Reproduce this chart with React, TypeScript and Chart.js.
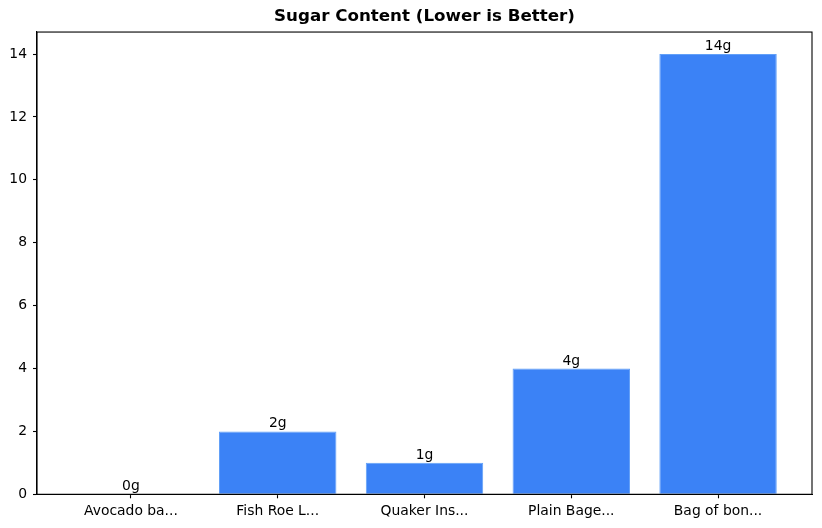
import React, { useEffect, useRef } from "react";
import { Chart, registerables } from "chart.js";

Chart.register(...registerables);

const categories = ["Avocado ba...", "Fish Roe L...", "Quaker Ins...", "Plain Bage...", "Bag of bon..."];
const sugarValues = [0, 2, 1, 4, 14];
const yTicks = [0, 2, 4, 6, 8, 10, 12, 14];
const titleText = "Sugar Content (Lower is Better)";

const FONT = "'DejaVu Sans', sans-serif";

const framePlugin = {
  id: "frame",
  afterDraw(chart: any) {
    const { ctx, chartArea } = chart;
    ctx.save();
    ctx.strokeStyle = "#000";
    ctx.lineWidth = 1.1;
    ctx.strokeRect(chartArea.left, chartArea.top, chartArea.right - chartArea.left, chartArea.bottom - chartArea.top);
    ctx.restore();
  },
};

const valueLabelPlugin = {
  id: "valueLabels",
  afterDatasetsDraw(chart: any) {
    const { ctx } = chart;
    const meta = chart.getDatasetMeta(0);
    ctx.save();
    ctx.font = `13.9px ${FONT}`;
    ctx.fillStyle = "#000";
    ctx.textAlign = "center";
    ctx.textBaseline = "alphabetic";
    meta.data.forEach((bar: any, i: number) => {
      ctx.fillText(`${sugarValues[i]}g`, bar.x, bar.y - 4);
    });
    ctx.restore();
  },
};

export default function App() {
  const ref = useRef<HTMLCanvasElement>(null);
  useEffect(() => {
    if (!ref.current) return;
    const chart = new Chart(ref.current, {
      type: "bar",
      data: {
        datasets: [
          {
            data: sugarValues.map((v, i) => ({ x: i, y: v })),
            backgroundColor: "#3b82f6",
            borderColor: "#62a0f8",
            borderWidth: 1,
            categoryPercentage: 1,
            barPercentage: 0.8,
          },
        ],
      },
      options: {
        animation: false,
        responsive: false,
        maintainAspectRatio: false,
        layout: { padding: { left: 0, right: 10, top: 0, bottom: 0 } },
        plugins: {
          legend: { display: false },
          tooltip: { enabled: false },
          title: {
            display: true,
            text: titleText,
            fullSize: false,
            color: "#000",
            font: { family: FONT, size: 16.7, weight: "bold" },
            padding: { top: 7, bottom: 5 },
          },
        },
        scales: {
          x: {
            type: "linear",
            offset: false,
            min: -0.64,
            max: 4.64,
            afterBuildTicks: (scale: any) => {
              scale.ticks = categories.map((_, i) => ({ value: i }));
            },
            afterFit: (scale: any) => {
              scale.height = 33.7;
            },
            ticks: {
              color: "#000",
              font: { family: FONT, size: 13.9 },
              padding: 5,
              maxRotation: 0,
              autoSkip: false,
              callback: (v: any) => categories[v as number] ?? "",
            },
            grid: { offset: false, drawOnChartArea: false, drawTicks: true, tickLength: 4, color: "#000", tickWidth: 1.1 },
            border: { display: true, color: "#000", width: 1.1 },
          },
          y: {
            type: "linear",
            min: 0,
            max: 14.7,
            afterBuildTicks: (scale: any) => {
              scale.ticks = yTicks.map((v) => ({ value: v }));
            },
            afterFit: (scale: any) => {
              scale.width = 37;
            },
            ticks: {
              color: "#000",
              font: { family: FONT, size: 13.9 },
              padding: 6,
              callback: (v: any) => String(v),
            },
            grid: { drawOnChartArea: false, drawTicks: true, tickLength: 4, color: "#000", tickWidth: 1.1 },
            border: { display: true, color: "#000", width: 1.1 },
          },
        },
      },
      plugins: [framePlugin, valueLabelPlugin],
    } as any);
    return () => chart.destroy();
  }, []);
  return (
    <div style={{ position: "fixed", left: 0, top: 0, width: 822, height: 528, background: "#fff" }}>
      <canvas ref={ref} width={822} height={528} />
    </div>
  );
}
